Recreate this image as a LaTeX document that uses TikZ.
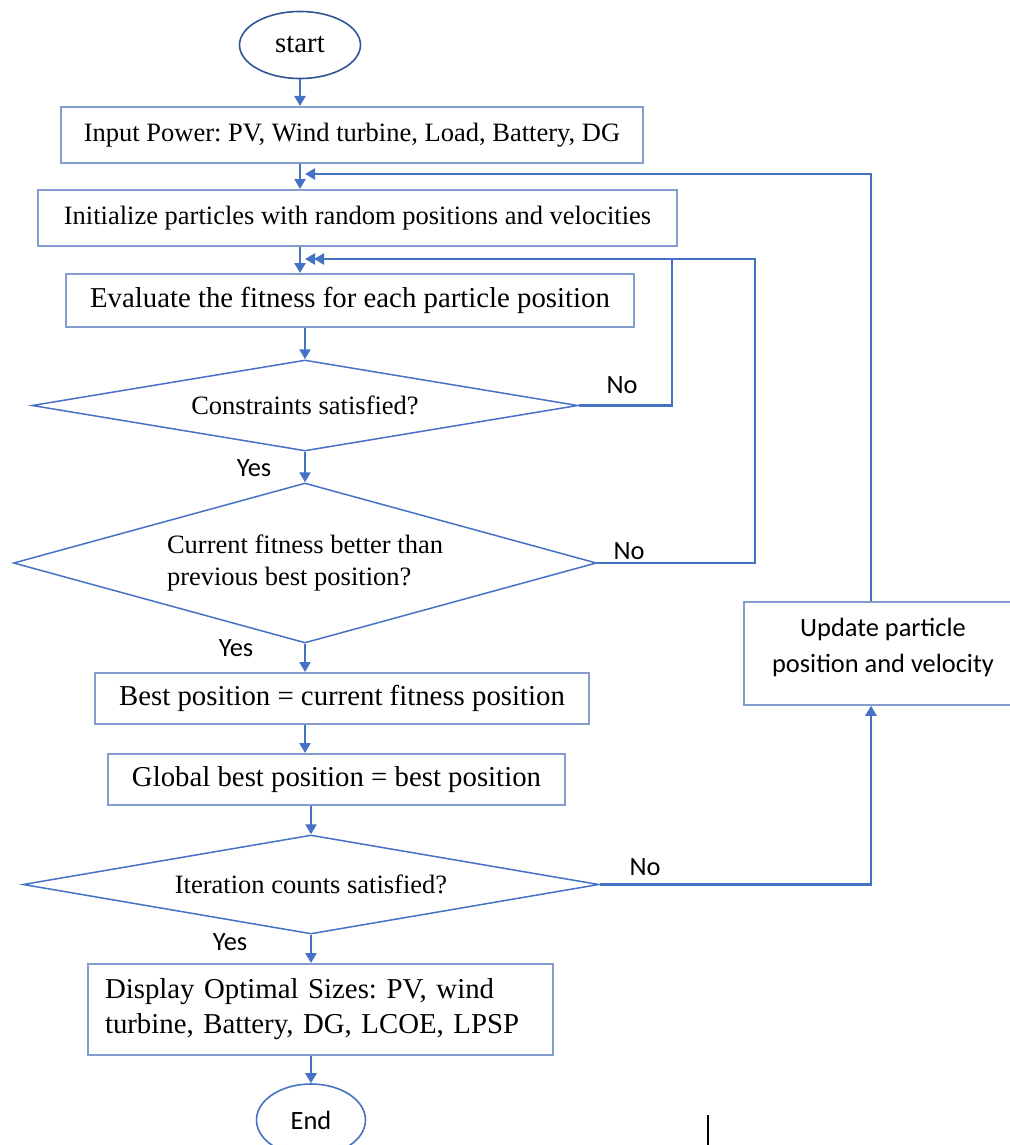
\documentclass[tikz,border=0pt]{standalone}
\usepackage{fontspec}
\setmainfont{Liberation Serif}
\newfontfamily\calibrifont{Carlito}
\usepackage{xcolor}
\usepackage{tikz}
\usetikzlibrary{positioning,shapes.geometric,arrows.meta}
\frenchspacing
\definecolor{flowblue}{RGB}{68,114,196}
\definecolor{boxblue}{RGB}{132,156,206}
\definecolor{termblue}{RGB}{47,85,151}
\newcommand{\fsmall}{\fontsize{13.25}{16}\selectfont}
\newcommand{\fbig}{\fontsize{14.4}{17.5}\selectfont}
\newcommand{\fsans}{\calibrifont\fontsize{13.2}{18}\selectfont}
\tikzset{
  procbox/.style={rectangle, draw=boxblue, line width=1pt, inner sep=0pt, font=\fsmall},
  decision/.style={diamond, draw=flowblue, line width=0.75pt, inner sep=0pt, font=\fsmall},
  terminal/.style={ellipse, draw=termblue, line width=0.8pt, inner sep=0pt},
  flow/.style={draw=flowblue, line width=1.25pt, -{Triangle[length=5pt,width=5.5pt]}},
  answer/.style={inner sep=0pt, font=\fsans}
}

\begin{document}
\begin{tikzpicture}[x={(0.5pt,0pt)}, y={(0pt,-0.5pt)}]
\useasboundingbox (0,0) rectangle (1009,1145);

\node[terminal, minimum width=60.5pt, minimum height=33.5pt, font=\fbig] (start) at (300,45) {start};
\node[procbox, minimum width=291pt, minimum height=28pt] (input) at (352,135) {Input Power: PV, Wind turbine, Load, Battery, DG};
\node[procbox, minimum width=319.5pt, minimum height=28pt] (init) at (357.5,218) {Initialize particles with random positions and velocities};
\node[procbox, minimum width=284pt, minimum height=26.5pt, font=\fbig] (eval) at (350,300.5) {Evaluate the fitness for each particle position};
\node[decision, aspect=6, minimum width=273pt, minimum height=45.5pt] (cons) at (305,405.5) {Constraints satisfied?};
\node[decision, aspect=3.6, minimum width=291.5pt, minimum height=80pt, align=left] (cur) at (305,563) {Current fitness better than\\previous best position?};
\node[procbox, minimum width=247pt, minimum height=25.5pt, font=\fbig] (best) at (342,698.5) {Best position = current fitness position};
\node[procbox, minimum width=228.5pt, minimum height=25.5pt, font=\fbig] (global) at (336.5,779.5) {Global best position = best position};
\node[decision, aspect=5.8, minimum width=288pt, minimum height=49.5pt] (iter) at (311,884.5) {Iteration counts satisfied?};
\node[procbox, minimum height=45.5pt, text width=215.5pt, inner xsep=8.5pt, align=left, font=\fbig] (display) at (320.5,1009.5) {Display Optimal Sizes: PV, wind\\turbine, Battery, DG, LCOE, LPSP};
\node[terminal, draw=flowblue, minimum width=54.5pt, minimum height=36pt, font=\fsans] (endn) at (311,1120) {End};
\node[procbox, line width=0.75pt, minimum width=139pt, minimum height=51.5pt, text depth=8pt, align=center, font=\fsans] (update) at (883,653.5) {Update particle\\position and velocity};

% main flow
\draw[flow] (start.south) -- (start.south |- input.north);
\draw[flow] (start.south |- input.south) -- (start.south |- init.north);
\draw[flow] (start.south |- init.south) -- (start.south |- eval.north);
\draw[flow] (cons.north |- eval.south) -- (cons.north);
\draw[flow] (cons.south) -- (cur.north);
\draw[flow] (cur.south) -- (cur.south |- best.north);
\draw[flow] (cur.south |- best.south) -- (cur.south |- global.north);
\draw[flow] (iter.north |- global.south) -- (iter.north);
\draw[flow] (iter.south) -- (iter.south |- display.north);
\draw[flow] (iter.south |- display.south) -- (endn.north);

% loops back
\coordinate (upx) at (871,0);
\coordinate (innerx) at (672,0);
\coordinate (outerx) at (755,0);
\coordinate (backA) at (305,174);
\coordinate (backB) at (305,259);
\coordinate (backC) at (314,259);
\draw[flow] (cons.east) -- (cons.east -| innerx) -- (innerx |- backB) -- (backB);
\draw[flow] (cur.east) -- (cur.east -| outerx) -- (outerx |- backC) -- (backC);
\draw[flow] (iter.east) -- (iter.east -| upx) -- (upx |- update.south);
\draw[flow] (upx |- update.north) -- (upx |- backA) -- (backA);

% answers
\node[answer] (no1) at (622,385) {No};
\node[answer] (no2) at (629,551) {No};
\node[answer] (no3) at (645,867) {No};
\node[answer] (yes1) at (254,468) {Yes};
\node[answer] (yes2) at (236,648) {Yes};
\node[answer] (yes3) at (230,942) {Yes};

\coordinate (mark) at (708,1115);
\draw[line width=0.75pt] (mark) -- ++(0,30);
\end{tikzpicture}
\end{document}
